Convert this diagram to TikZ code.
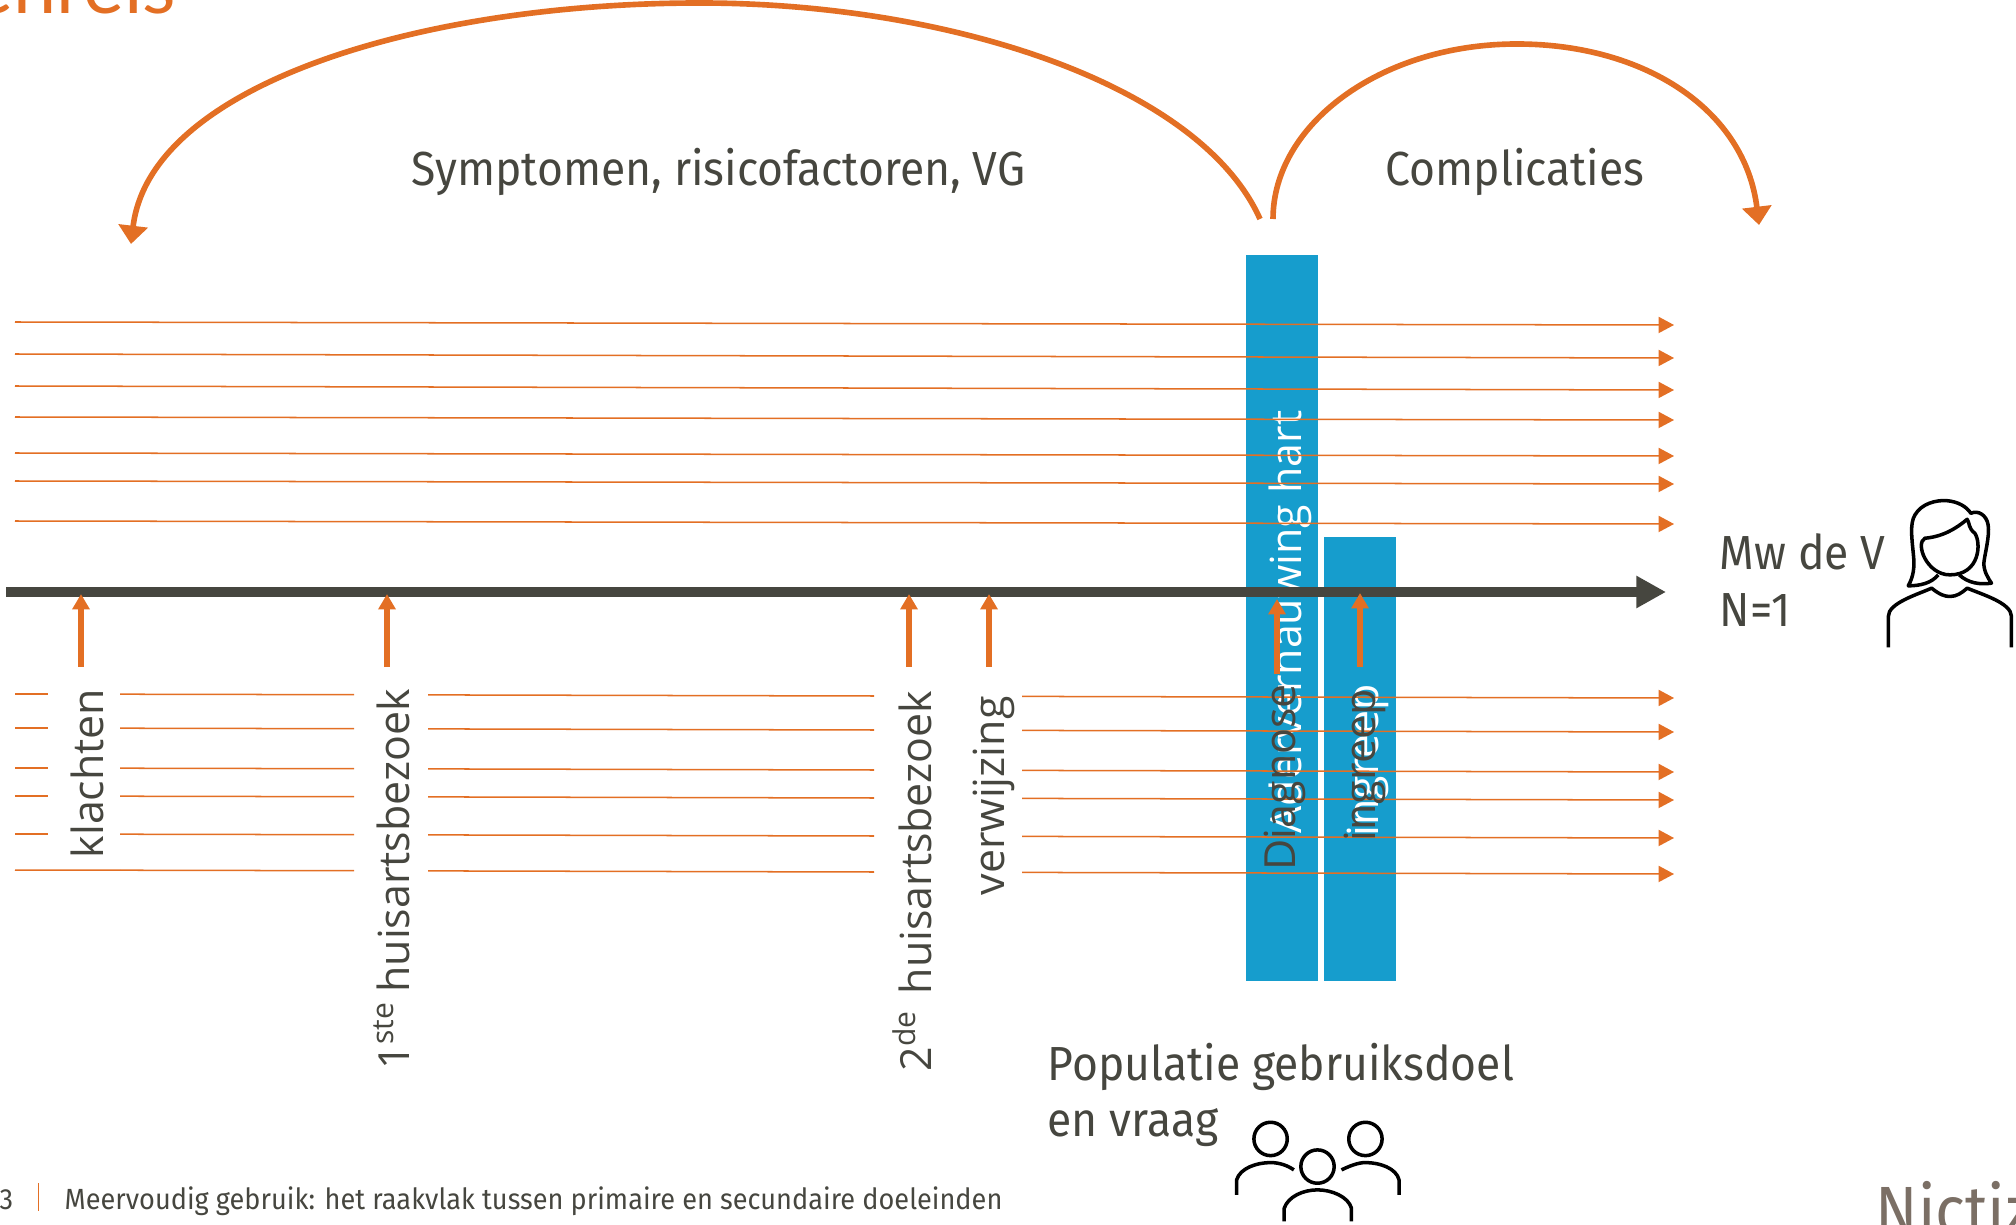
\documentclass[tikz,border=0pt]{standalone}
\usepackage{fontspec}
\setmainfont[FakeStretch=0.93]{Fira Sans}
\newfontfamily\labelfont{Open Sans}
\newfontfamily\titlefont{Lato}
\usetikzlibrary{arrows.meta}
\definecolor{oranje}{HTML}{E36F24}
\definecolor{blauw}{HTML}{169DCD}
\definecolor{donker}{HTML}{46463F}
\definecolor{logogrijs}{HTML}{7B6F65}
\tikzset{
  tijdlijn/.style = {draw = oranje, line width = 0.43pt},
  pijl/.style = {tijdlijn, -{Triangle[length = 4.4pt, width = 4.6pt]}},
  bocht/.style = {draw = oranje, line width = 1.6pt, -{Triangle[length = 5.2pt, width = 8.2pt]}},
  moment/.style = {draw = oranje, line width = 1.7pt, -{Triangle[length = 4.4pt, width = 4.8pt]}},
  balk/.style = {fill = blauw},
  tekst/.style = {text = donker, font = \fontsize{13.6}{16}\selectfont, inner sep = 0pt},
  schuin/.style = {text = donker, font = \labelfont\fontsize{12.2}{15}\selectfont, inner sep = 0pt, rotate = 90, anchor = base west},
  icoon/.style = {draw = black, line width = 1pt, line join = round}
}
\begin{document}
\begin{tikzpicture}[x = 0.01cm, y = -0.01cm]

      \useasboundingbox (0, 0) rectangle (2016, 1225);

      % balken
      \fill [balk] (1246, 255) rectangle (1318, 981);
      \fill [balk] (1324, 537) rectangle (1396, 981);
      \node [schuin, text = white, anchor = base east] (aderwit) at (1301, 410) {Adervernauwing hart};
      \node [schuin, text = white] (ingreepwit) at (1378, 837) {ingreep};

      % lijnen boven de tijdas
      \foreach \ya/\yb [count = \i] in {322/325, 354/358, 386/390, 417/420, 453/456, 481/484, 521/524} {
        \coordinate (b\i) at (15, \ya);
        \coordinate (e\i) at (1674, \yb);
        \draw [pijl] (b\i) -- (e\i);
      }

      % lijnen onder de tijdas
      \foreach \ya/\yb [count = \i] in {694/698, 728/732, 768/772, 796/800, 834/838, 870/874} {
        \coordinate (p\i) at (120, \ya + 0.2);
        \coordinate (q\i) at (354, \ya + 0.7);
        \coordinate (r\i) at (428, \ya + 0.9);
        \coordinate (s\i) at (874, \ya + 2);
        \coordinate (t\i) at (1022, \ya + 2.4);
        \coordinate (u\i) at (1674, \yb);
        \draw [tijdlijn] (p\i) -- (q\i);
        \draw [tijdlijn] (r\i) -- (s\i);
        \draw [pijl] (t\i) -- (u\i);
      }
      \foreach \y [count = \i] in {694, 728, 768, 796, 834} {
        \coordinate (k\i) at (15, \y);
        \coordinate (l\i) at (48, \y);
        \draw [tijdlijn] (k\i) -- (l\i);
      }
      \coordinate (k6) at (15, 870);
      \draw [tijdlijn] (k6) -- (p6);

      % tijdas
      \coordinate (asbegin) at (6, 592);
      \coordinate (aseinde) at (1666, 592);
      \draw [draw = donker, line width = 2.85pt, -{Triangle[length = 8.4pt, width = 8.6pt]}] (asbegin) -- (aseinde);

      % momenten
      \foreach \naam/\x/\yo/\yb in {klacht/81/667/594, eerste/387/667/594, tweede/909/667/594, verwijs/989/667/594, diagnose/1277/674/599, ingreep/1360/667/593} {
        \coordinate (\naam o) at (\x, \yo);
        \coordinate (\naam b) at (\x, \yb);
        \draw [moment] (\naam o) -- (\naam b);
      }

      % bogen
      \coordinate (boogl) at (1260, 219);
      \coordinate (toplinks) at (700, 3);
      \coordinate (eindl) at (131, 244);
      \coordinate (boogr) at (1273, 219);
      \coordinate (toprechts) at (1517, 44);
      \coordinate (eindr) at (1759, 225);
      \draw [bocht] (boogl) .. controls (1200, 85) and (950, 3) .. (toplinks)
        .. controls (420, 3) and (150, 85) .. (eindl);
      \draw [bocht] (boogr) .. controls (1273, 125) and (1380, 44) .. (toprechts)
        .. controls (1645, 44) and (1745, 110) .. (eindr);

      % teksten
      \node [tekst, anchor = base west] (symptomen) at (411, 186) {Symptomen, risicofactoren, VG};
      \node [tekst, anchor = base west] (complicaties) at (1385, 186) {Complicaties};
      \node [tekst, anchor = base west] (mw) at (1719, 570) {Mw de V};
      \node [tekst, anchor = base west] (n) at (1719, 626) {N=1};
      \node [tekst, anchor = base west] (populatie) at (1047, 1080) {Populatie gebruiksdoel};
      \node [tekst, anchor = base west] (vraag) at (1047, 1136) {en vraag};
      \node [schuin] (klachten) at (103, 859) {klachten};
      \node [schuin] (huisarts) at (409, 1070) {1\textsuperscript{ste}\hspace{0.2em}huisartsbezoek};
      \node [schuin] (huisarts2) at (931, 1072) {2\textsuperscript{de}\hspace{0.36em}huisartsbezoek};
      \node [schuin] (verwijzing) at (1004, 896) {verwijzing};
      \node [schuin] (diag) at (1295, 871) {Diagnose};
      \node [schuin] (ingr) at (1375, 842) {ingreep};

      % kop, voet en logo
      \node [text = oranje, font = \titlefont\fontsize{22}{26}\selectfont, inner sep = 0pt, anchor = base east] (kop) at (177, 14) {enreis};
      \node [text = donker, font = \fontsize{8.3}{10}\selectfont, inner sep = 0pt, anchor = base west] (pagina) at (-1, 1209) {3};
      \node [text = donker, font = \fontsize{8.3}{10}\selectfont, inner sep = 0pt, anchor = base west] (voet) at (64, 1209) {Meervoudig gebruik: het raakvlak tussen primaire en secundaire doeleinden};
      \coordinate (streepa) at (38.5, 1183);
      \coordinate (streepb) at (38.5, 1211);
      \draw [draw = oranje, line width = 0.5pt] (streepa) -- (streepb);
      \node [text = logogrijs, font = \fontsize{19}{23}\selectfont, inner sep = 0pt, anchor = base west] (logo) at (1875, 1233) {Nictiz};

      % vrouw
      \begin{scope}[shift = {(1860, 480)}, x = 0.00333cm, y = -0.00333cm]
        \draw [icoon] (235, 285) .. controls (215, 310) and (180, 318) .. (145, 318)
          .. controls (160, 290) and (165, 265) .. (160, 220)
          .. controls (155, 170) and (150, 130) .. (165, 105)
          .. controls (185, 70) and (230, 60) .. (260, 62)
          .. controls (295, 65) and (320, 80) .. (333, 100)
          .. controls (355, 90) and (380, 105) .. (385, 135)
          .. controls (390, 170) and (375, 220) .. (372, 250)
          .. controls (372, 275) and (385, 295) .. (395, 310)
          .. controls (360, 315) and (325, 310) .. (298, 285);
        \draw [icoon] (195, 175) .. controls (250, 170) and (290, 145) .. (322, 118)
          .. controls (330, 130) and (325, 145) .. (345, 160)
          .. controls (365, 190) and (360, 285) .. (270, 285)
          .. controls (200, 285) and (165, 190) .. (195, 175) -- cycle;
        \draw [icoon] (85, 503) -- (85, 410) .. controls (85, 370) and (170, 345) .. (215, 325)
          .. controls (240, 345) and (255, 350) .. (270, 350)
          .. controls (290, 350) and (305, 340) .. (322, 325)
          .. controls (370, 345) and (455, 370) .. (455, 410) -- (455, 503);
      \end{scope}

      % groep
      \begin{scope}[shift = {(1210, 1100)}, x = 0.00333cm, y = -0.00333cm]
        \draw [icoon] (182, 117) circle (0.5cm / 3);
        \draw [icoon] (467, 117) circle (0.5cm / 3);
        \draw [icoon] (323, 200) circle (0.5cm / 3);
        \draw [icoon] (80, 285) -- (80, 240) .. controls (90, 205) and (140, 188) .. (182, 188)
          .. controls (210, 188) and (235, 198) .. (252, 210);
        \draw [icoon] (395, 210) .. controls (420, 198) and (445, 188) .. (467, 188)
          .. controls (510, 188) and (560, 205) .. (568, 240) -- (568, 285);
        \draw [icoon] (223, 365) -- (223, 325) .. controls (235, 290) and (280, 270) .. (323, 270)
          .. controls (365, 270) and (415, 290) .. (425, 325) -- (425, 365);
      \end{scope}

    \end{tikzpicture}
\end{document}
